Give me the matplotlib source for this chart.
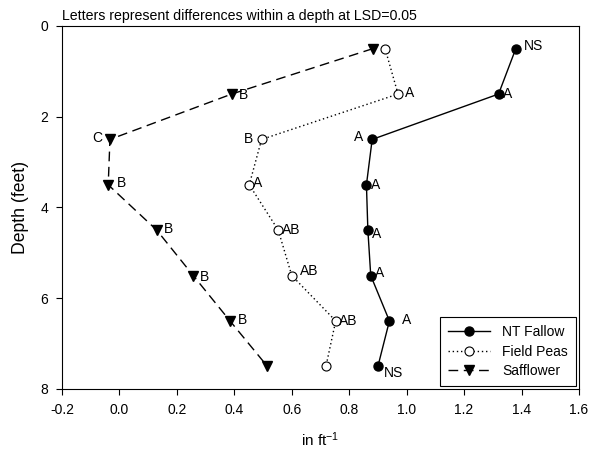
import matplotlib
matplotlib.use("Agg")
import matplotlib.pyplot as plt

plt.rcParams['font.family'] = ['Liberation Sans', 'DejaVu Sans']
plt.rcParams['mathtext.fontset'] = 'custom'
plt.rcParams['mathtext.rm'] = 'Liberation Sans'
plt.rcParams['mathtext.it'] = 'Liberation Sans'

depth = [0.5, 1.5, 2.5, 3.5, 4.5, 5.5, 6.5, 7.5]
nt_fallow = [1.38, 1.32, 0.88, 0.86, 0.865, 0.875, 0.94, 0.90]
field_peas = [0.925, 0.97, 0.495, 0.452, 0.553, 0.60, 0.753, 0.719]
safflower = [0.882, 0.391, -0.033, -0.039, 0.13, 0.257, 0.385, 0.515]

nt_letters = ["NS", "A", "A", "A", "A", "A", "A", "NS"]
fp_letters = ["", "A", "B", "A", "AB", "AB", "AB", ""]
sf_letters = ["", "B", "C", "B", "B", "B", "B", ""]

# label offsets (points) per point
nt_off = [(6, 2), (3, 0), (-13, 2), (3, 0), (3, -3), (3, 2), (9, 1), (4, -5)]
fp_off = [(0, 0), (5, 1), (-13, 0), (3, 1), (3, 0), (6, 3), (2, 0), (0, 0)]
sf_off = [(0, 0), (5, -1), (-13, 1), (6, 1), (5, 1), (5, -1), (6, 1), (0, 0)]

fig = plt.figure(figsize=(5.92, 4.51), dpi=100)
ax = fig.add_axes([0.1047, 0.1375, 0.8733, 0.8049])

ax.plot(nt_fallow, depth, color='black', lw=1.0, marker='o', ms=6.5,
        mfc='black', mec='black', label='NT Fallow')
ax.plot(field_peas, depth, color='black', lw=1.0, ls=(0, (1, 2)), marker='o', ms=6.5,
        mfc='white', mec='black', mew=0.8, label='Field Peas')
ax.plot(safflower, depth, color='black', lw=1.0, ls=(0, (7, 4)), marker='v', ms=6.5,
        mfc='black', mec='black', label='Safflower')

for xs, labs, offs in [(nt_fallow, nt_letters, nt_off),
                       (field_peas, fp_letters, fp_off),
                       (safflower, sf_letters, sf_off)]:
    for x, y, t, o in zip(xs, depth, labs, offs):
        if t:
            ax.annotate(t, (x, y), xytext=o, textcoords='offset points',
                        ha='left', va='center', fontsize=10)

ax.set_xlim(-0.2, 1.6)
ax.set_ylim(8, 0)
ax.set_xticks([-0.2, 0.0, 0.2, 0.4, 0.6, 0.8, 1.0, 1.2, 1.4, 1.6])
ax.set_xticklabels(['-0.2', '0.0', '0.2', '0.4', '0.6', '0.8', '1.0', '1.2', '1.4', '1.6'])
ax.set_yticks([0, 2, 4, 6, 8])
ax.tick_params(direction='out', length=4, width=0.8, labelsize=10)
ax.tick_params(axis='x', pad=6)
ax.tick_params(axis='y', pad=6)
for s in ax.spines.values():
    s.set_linewidth(0.8)

ax.set_xlabel('in ft$^{-1}$', fontsize=11, labelpad=10)
ax.set_ylabel('Depth (feet)', fontsize=12.7, labelpad=8)
ax.text(0.0, 1.008, 'Letters represent differences within a depth at LSD=0.05',
        transform=ax.transAxes, ha='left', va='bottom', fontsize=10.2)

leg = ax.legend(loc='lower right', fontsize=10, frameon=True, fancybox=False,
                edgecolor='black', framealpha=1, borderaxespad=0.2,
                handlelength=3.0, handletextpad=0.9, labelspacing=0.38, borderpad=0.6)
leg.get_frame().set_linewidth(0.8)

fig.savefig('out.png', dpi=100)
